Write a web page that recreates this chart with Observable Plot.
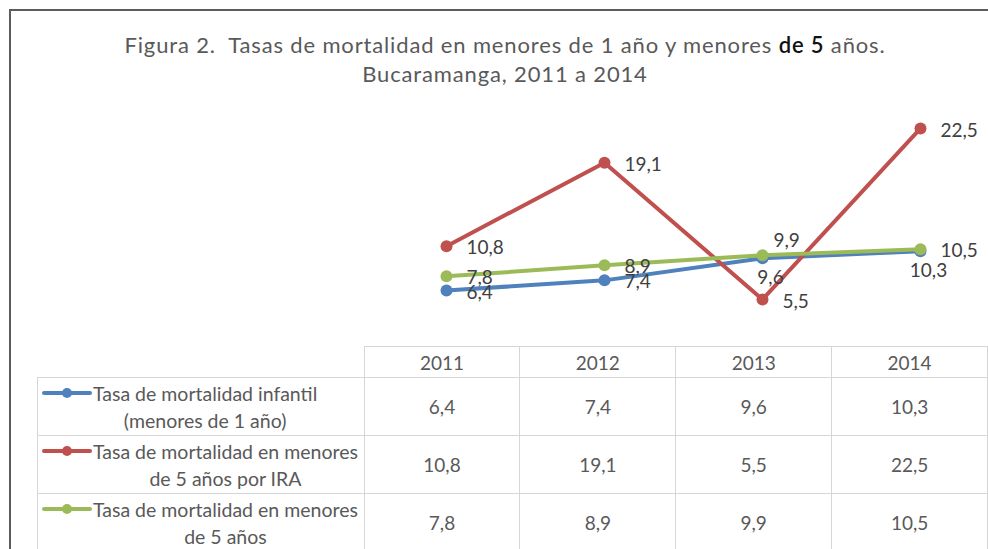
<!DOCTYPE html>
<html>
<head>
<meta charset="utf-8">
<script src="https://cdn.jsdelivr.net/npm/d3@7"></script>
<script src="https://cdn.jsdelivr.net/npm/@observablehq/plot@0.6"></script>
<style>
  body { margin: 0; background: #fff; }
  #wrap { position: relative; width: 988px; height: 549px; overflow: hidden; font-family: Lato, sans-serif; color: #595959; }
  #chart { position: absolute; left: 0; top: 0; }
  #frame { position: absolute; left: 9px; top: 9px; width: 1100px; height: 700px; border-left: 2px solid #5c5c5c; border-top: 2px solid #5c5c5c; pointer-events: none; }
  #title { position: absolute; left: 0; width: 1010px; top: 30px; text-align: center; font-size: 22px; letter-spacing: 0.85px; line-height: 29px; white-space: pre; }
  #title b { color: #111; font-weight: 600; }
  table { position: absolute; left: 37px; top: 346px; border-collapse: collapse; table-layout: fixed; }
  td { border: 1.5px solid #d6d6d6; text-align: center; font-size: 19px; padding: 0; color: #595959; }
  td.blank { border-top: none; border-left: none; }
  tr.head td { height: 30px; }
  tr.body td { height: 57px; }
  .lg { display: flex; align-items: flex-start; justify-content: flex-start; height: 57px; }
  .lg svg { flex: none; margin-left: 4px; margin-top: 9px; }
  .lg div { flex: none; text-align: center; line-height: 27px; padding-top: 2px; margin-left: 1px; font-size: 19.5px; }
</style>
</head>
<body>
<div id="wrap">
  <div id="chart"></div>
  <div id="title"></div>
  <table id="tbl"></table>
  <div id="frame"></div>
</div>
<script>
// ---- data ----
const years = [2011, 2012, 2013, 2014];
const infantil = [6.4, 7.4, 9.6, 10.3];
const ira = [10.8, 19.1, 5.5, 22.5];
const menores5 = [7.8, 8.9, 9.9, 10.5];
const seriesKeys = ["infantil", "ira", "menores5"];
const seriesLabels = [
  ["Tasa de mortalidad infantil", "(menores de 1 año)"],
  ["Tasa de mortalidad en menores", "de 5 años por IRA"],
  ["Tasa de mortalidad en menores", "de 5 años"]
];
const titleLine1 = ["Figura 2.  Tasas de mortalidad en menores de 1 año y menores ", "de 5", " años."];
const titleLine2 = "Bucaramanga, 2011 a 2014";

// ---- styling ----
const colors = {infantil: "#4f81bd", ira: "#c0504d", menores5: "#9bbb59"};
const valuesBySeries = {infantil, ira, menores5};
const labelPlacement = {
  infantil: ["right", "right", "below", "below"],
  ira: ["right", "right", "right", "right"],
  menores5: ["right", "right", "above", "right"]
};
const placements = {
  right: {dx: 20, dy: 2, textAnchor: "start"},
  below: {dx: 8, dy: 20, textAnchor: "middle"},
  above: {dx: 11, dy: -14, textAnchor: "start"}
};
const fmt = v => d3.format(".1f")(v).replace(".", ",");

const points = seriesKeys.flatMap(k => years.map((yr, i) => ({
  series: k, year: yr, value: valuesBySeries[k][i], place: labelPlacement[k][i]
})));

// title
const t = document.getElementById("title");
t.innerHTML = titleLine1[0] + "<b>" + titleLine1[1] + "</b>" + titleLine1[2] + "\n" + titleLine2;

// chart
const marks = [];
for (const k of seriesKeys) {
  const d = points.filter(p => p.series === k);
  marks.push(Plot.line(d, {x: "year", y: "value", stroke: colors[k], strokeWidth: 4, strokeLinejoin: "round"}));
  marks.push(Plot.dot(d, {x: "year", y: "value", fill: colors[k], r: 6}));
}
for (const [name, opt] of Object.entries(placements)) {
  marks.push(Plot.text(points.filter(p => p.place === name), {
    x: "year", y: "value", text: d => fmt(d.value),
    fill: "#404040", fontSize: 19, ...opt
  }));
}
const chart = Plot.plot({
  width: 988,
  height: 346,
  style: {fontFamily: "Lato, sans-serif", background: "transparent", overflow: "visible"},
  x: {type: "point", domain: years, range: [367, 999], padding: 0.5, axis: null},
  y: {domain: [0, 25], range: [354.3, 102.8], axis: null},
  marks
});
document.getElementById("chart").appendChild(chart);

// table
const tbl = document.getElementById("tbl");
const cg = document.createElement("colgroup");
cg.innerHTML = '<col style="width:330px">' + years.map(() => '<col style="width:158px">').join("");
tbl.appendChild(cg);
const head = document.createElement("tr");
head.className = "head";
head.innerHTML = '<td class="blank"></td>' + years.map(y => `<td>${y}</td>`).join("");
tbl.appendChild(head);
seriesKeys.forEach((k, si) => {
  const tr = document.createElement("tr");
  tr.className = "body";
  const sw = `<svg width="50" height="12"><line x1="2" x2="48" y1="6" y2="6" stroke="${colors[k]}" stroke-width="4" stroke-linecap="round"/><circle cx="25" cy="6" r="5" fill="${colors[k]}"/></svg>`;
  tr.innerHTML = `<td><div class="lg">${sw}<div>${seriesLabels[si].join("<br>")}</div></div></td>` +
    valuesBySeries[k].map(v => `<td>${fmt(v)}</td>`).join("");
  tbl.appendChild(tr);
});
</script>
</body>
</html>
